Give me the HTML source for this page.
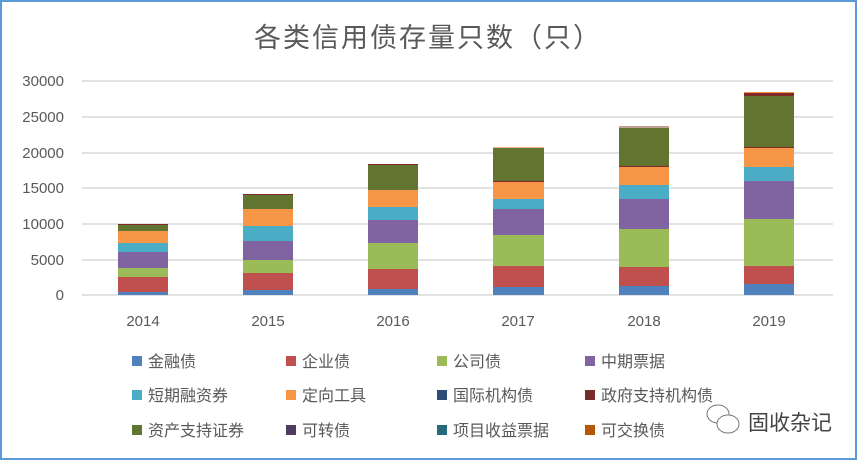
<!DOCTYPE html>
<html><head><meta charset="utf-8"><style>
body{margin:0;background:#fff;}
svg text{font-family:"Liberation Sans","Noto Sans CJK SC",sans-serif;fill:#595959;}
</style></head><body>
<svg width="857" height="460" xmlns="http://www.w3.org/2000/svg">
<rect x="1" y="1" width="855" height="458" fill="#fff" stroke="#5b9bd5" stroke-width="2"/>
<text x="428" y="47" font-size="27" text-anchor="middle" letter-spacing="2">各类信用债存量只数（只）</text>
<g stroke="#d9d9d9" stroke-width="1.5">
<line x1="82" x2="833" y1="81" y2="81"/><line x1="82" x2="833" y1="117" y2="117"/>
<line x1="82" x2="833" y1="153" y2="153"/><line x1="82" x2="833" y1="188" y2="188"/>
<line x1="82" x2="833" y1="224" y2="224"/><line x1="82" x2="833" y1="260" y2="260"/>
<line x1="82" x2="833" y1="295" y2="295"/>
</g>
<g font-size="15" text-anchor="end">
<text x="64" y="86">30000</text><text x="64" y="122">25000</text><text x="64" y="158">20000</text>
<text x="64" y="193">15000</text><text x="64" y="229">10000</text><text x="64" y="265">5000</text>
<text x="64" y="300">0</text>
</g>
<g font-size="15" text-anchor="middle">
<text x="143" y="326">2014</text><text x="268" y="326">2015</text><text x="393" y="326">2016</text>
<text x="518" y="326">2017</text><text x="644" y="326">2018</text><text x="769" y="326">2019</text>
</g>
<!-- bars -->
<g>
<rect x="118" y="292" width="50" height="3" fill="#4f81bd"/>
<rect x="118" y="277" width="50" height="15" fill="#c0504d"/>
<rect x="118" y="268" width="50" height="9" fill="#9bbb59"/>
<rect x="118" y="252" width="50" height="16" fill="#8064a2"/>
<rect x="118" y="243" width="50" height="9" fill="#4bacc6"/>
<rect x="118" y="231" width="50" height="12" fill="#f79646"/>
<rect x="118" y="225" width="50" height="6" fill="#617530"/>
<rect x="118" y="224" width="50" height="1" fill="#7f2a26"/>

<rect x="243" y="290" width="50" height="5" fill="#4f81bd"/>
<rect x="243" y="273" width="50" height="17" fill="#c0504d"/>
<rect x="243" y="260" width="50" height="13" fill="#9bbb59"/>
<rect x="243" y="241" width="50" height="19" fill="#8064a2"/>
<rect x="243" y="226" width="50" height="15" fill="#4bacc6"/>
<rect x="243" y="209" width="50" height="17" fill="#f79646"/>
<rect x="243" y="195" width="50" height="14" fill="#617530"/>
<rect x="243" y="194" width="50" height="1" fill="#7f2a26"/>

<rect x="368" y="289" width="50" height="6" fill="#4f81bd"/>
<rect x="368" y="269" width="50" height="20" fill="#c0504d"/>
<rect x="368" y="243" width="50" height="26" fill="#9bbb59"/>
<rect x="368" y="220" width="50" height="23" fill="#8064a2"/>
<rect x="368" y="207" width="50" height="13" fill="#4bacc6"/>
<rect x="368" y="190" width="50" height="17" fill="#f79646"/>
<rect x="368" y="165" width="50" height="25" fill="#617530"/>
<rect x="368" y="164" width="50" height="1" fill="#7f2a26"/>

<rect x="493" y="287" width="51" height="8" fill="#4f81bd"/>
<rect x="493" y="266" width="51" height="21" fill="#c0504d"/>
<rect x="493" y="235" width="51" height="31" fill="#9bbb59"/>
<rect x="493" y="209" width="51" height="26" fill="#8064a2"/>
<rect x="493" y="199" width="51" height="10" fill="#4bacc6"/>
<rect x="493" y="182" width="51" height="17" fill="#f79646"/>
<rect x="493" y="181" width="51" height="1" fill="#7f2a26"/>
<rect x="493" y="148" width="51" height="33" fill="#617530"/>
<rect x="493" y="147" width="51" height="1" fill="#f4b183"/>

<rect x="619" y="286" width="50" height="9" fill="#4f81bd"/>
<rect x="619" y="267" width="50" height="19" fill="#c0504d"/>
<rect x="619" y="229" width="50" height="38" fill="#9bbb59"/>
<rect x="619" y="199" width="50" height="30" fill="#8064a2"/>
<rect x="619" y="185" width="50" height="14" fill="#4bacc6"/>
<rect x="619" y="167" width="50" height="18" fill="#f79646"/>
<rect x="619" y="166" width="50" height="1" fill="#7f2a26"/>
<rect x="619" y="128" width="50" height="38" fill="#617530"/>
<rect x="619" y="126" width="50" height="2" fill="#c0a090"/>

<rect x="744" y="284" width="50" height="11" fill="#4f81bd"/>
<rect x="744" y="266" width="50" height="18" fill="#c0504d"/>
<rect x="744" y="219" width="50" height="47" fill="#9bbb59"/>
<rect x="744" y="181" width="50" height="38" fill="#8064a2"/>
<rect x="744" y="167" width="50" height="14" fill="#4bacc6"/>
<rect x="744" y="148" width="50" height="19" fill="#f79646"/>
<rect x="744" y="147" width="50" height="1" fill="#7f2a26"/>
<rect x="744" y="96" width="50" height="51" fill="#617530"/>
<rect x="744" y="93" width="50" height="3" fill="#7f2a26"/>
<rect x="744" y="92" width="50" height="1" fill="#f79646"/>
</g>
<!-- legend -->
<g font-size="16">
<rect x="132" y="356" width="10" height="10" fill="#4f81bd"/><text x="148" y="367">金融债</text>
<rect x="286" y="356" width="10" height="10" fill="#c0504d"/><text x="302" y="367">企业债</text>
<rect x="437" y="356" width="10" height="10" fill="#9bbb59"/><text x="453" y="367">公司债</text>
<rect x="585" y="356" width="10" height="10" fill="#8064a2"/><text x="601" y="367">中期票据</text>

<rect x="132" y="390" width="10" height="10" fill="#4bacc6"/><text x="148" y="401">短期融资券</text>
<rect x="286" y="390" width="10" height="10" fill="#f79646"/><text x="302" y="401">定向工具</text>
<rect x="437" y="390" width="10" height="10" fill="#2c4d75"/><text x="453" y="401">国际机构债</text>
<rect x="585" y="390" width="10" height="10" fill="#772c2a"/><text x="601" y="401">政府支持机构债</text>

<rect x="132" y="425" width="10" height="10" fill="#5f7530"/><text x="148" y="436">资产支持证券</text>
<rect x="286" y="425" width="10" height="10" fill="#4d3b62"/><text x="302" y="436">可转债</text>
<rect x="437" y="425" width="10" height="10" fill="#276a7c"/><text x="453" y="436">项目收益票据</text>
<rect x="585" y="425" width="10" height="10" fill="#b65708"/><text x="601" y="436">可交换债</text>
</g>
<!-- watermark -->
<g fill="none" stroke="#777" stroke-width="1">
<ellipse cx="718" cy="414" rx="11" ry="9"/>
<ellipse cx="728" cy="424" rx="11" ry="9" fill="#fff"/>
</g>
<text x="748" y="430" font-size="21" style="fill:#444">固收杂记</text>
</svg>
</body></html>
